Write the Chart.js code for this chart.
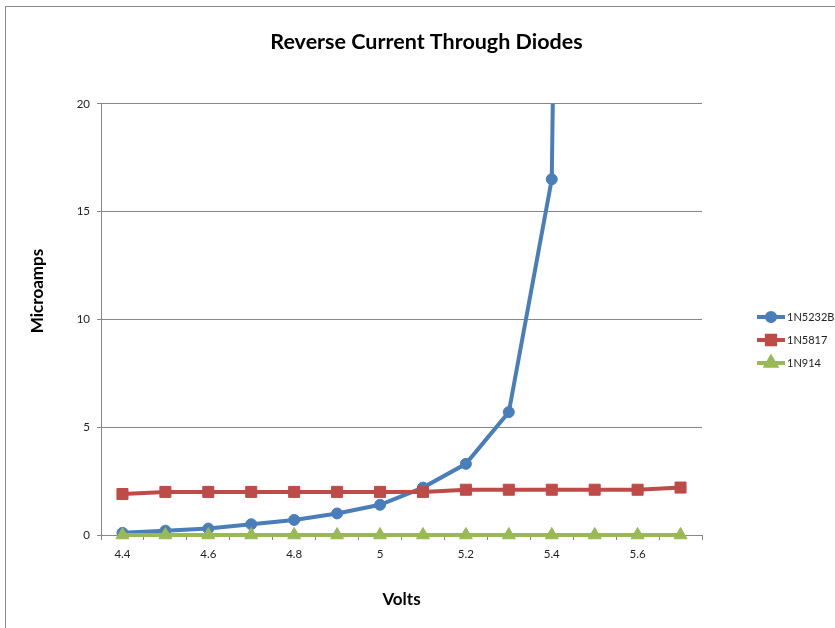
<!DOCTYPE html>
<html>
<head>
<meta charset="utf-8">
<title>Reverse Current Through Diodes</title>
<script src="https://cdn.jsdelivr.net/npm/chart.js@4/dist/chart.umd.min.js"></script>
<style>
  html, body { margin: 0; padding: 0; background: #fff; overflow: hidden; }
  #wrap { position: relative; width: 835px; height: 628px; }
  #frame { position: absolute; left: 5px; top: 6px; width: 900px; height: 700px;
           border: 1px solid #8a8a8a; box-sizing: border-box; pointer-events: none; }
  canvas { position: absolute; left: 0; top: 0; }
</style>
</head>
<body>
<div id="wrap">
  <div id="frame"></div>
  <canvas id="chart" width="835" height="628"></canvas>
</div>
<script>
// Reverse bias voltage (V)
const volts = ['4.4', '4.5', '4.6', '4.7', '4.8', '4.9', '5', '5.1', '5.2', '5.3', '5.4', '5.5', '5.6', '5.7'];

// Reverse current (µA) per diode
const i1N5232B = [0.1, 0.2, 0.3, 0.5, 0.7, 1.0, 1.4, 2.2, 3.3, 5.7, 16.5, 160, null, null];
const i1N5817  = [1.9, 2.0, 2.0, 2.0, 2.0, 2.0, 2.0, 2.0, 2.1, 2.1, 2.1, 2.1, 2.1, 2.2];
const i1N914   = [0, 0, 0, 0, 0, 0, 0, 0, 0, 0, 0, 0, 0, 0];

const yTicks = [0, 5, 10, 15, 20];

const FONT = 'Lato, "Open Sans", sans-serif';
const AXIS_GRAY = '#878787';

// Vertical axis caption, placed a little above the axis middle
const yCaption = {
  id: 'yCaption',
  afterDraw(chart) {
    const ctx = chart.ctx;
    ctx.save();
    ctx.translate(38, 291);
    ctx.rotate(-Math.PI / 2);
    ctx.fillStyle = '#000';
    ctx.font = 'bold 17px ' + FONT;
    ctx.textAlign = 'center';
    ctx.textBaseline = 'middle';
    ctx.fillText('Microamps', 0, 0);
    ctx.restore();
  }
};

// Legend drawn at the right: line segment with marker, then the series name
const sideLegend = {
  id: 'sideLegend',
  afterDraw(chart) {
    const ctx = chart.ctx;
    const x0 = 757, x1 = 785, top = 317, step = 23;
    chart.data.datasets.forEach((ds, i) => {
      const y = top + step * i;
      ctx.save();
      ctx.strokeStyle = ds.borderColor;
      ctx.fillStyle = ds.pointBackgroundColor;
      ctx.lineWidth = 4;
      ctx.beginPath();
      ctx.moveTo(x0, y);
      ctx.lineTo(x1, y);
      ctx.stroke();
      const opts = { pointStyle: ds.pointStyle, radius: ds.pointRadius * 0.75, rotation: 0, borderWidth: 1 };
      ctx.strokeStyle = ds.pointBorderColor;
      if (Chart.helpers && Chart.helpers.drawPoint) {
        Chart.helpers.drawPoint(ctx, opts, (x0 + x1) / 2, y);
      }
      ctx.fillStyle = '#222';
      ctx.font = '11px ' + FONT;
      ctx.textBaseline = 'middle';
      ctx.textAlign = 'left';
      ctx.fillText(ds.label, x1 + 2, y);
      ctx.restore();
    });
  }
};

function series(label, data, color, style, radius, order) {
  return {
    label, data, order,
    borderColor: color,
    backgroundColor: color,
    pointBackgroundColor: color,
    pointBorderColor: color,
    pointStyle: style,
    pointRadius: radius,
    pointHoverRadius: radius,
    pointBorderWidth: 1,
    borderWidth: 4,
    tension: 0,
    spanGaps: false,
    // cut at the top of the plot, but let markers on the baseline show in full
    clip: { left: 12, right: 12, top: 0, bottom: 12 }
  };
}

new Chart(document.getElementById('chart'), {
  type: 'line',
  data: {
    labels: volts,
    datasets: [
      series('1N5232B', i1N5232B, '#4a7ebb', 'circle', 5.5, 3),
      series('1N5817', i1N5817, '#be4b48', 'rect', 7.8, 2),
      series('1N914', i1N914, '#98b954', 'triangle', 7.5, 1)
    ]
  },
  options: {
    responsive: false,
    animation: false,
    events: [],
    layout: { padding: { left: 28, right: 10, top: 0, bottom: 18 } },
    plugins: {
      legend: { display: false },
      tooltip: { enabled: false },
      title: {
        display: true,
        text: 'Reverse Current Through Diodes',
        color: '#000',
        font: { family: FONT, size: 21.5, weight: 'bold', lineHeight: 1.2 },
        padding: { top: 29, bottom: 49 }
      }
    },
    scales: {
      x: {
        type: 'category',
        offset: true,
        grid: {
          offset: true,
          drawOnChartArea: false,
          drawTicks: true,
          tickLength: 5,
          tickColor: AXIS_GRAY
        },
        border: { display: true, color: AXIS_GRAY, width: 1 },
        ticks: {
          autoSkip: false,
          maxRotation: 0,
          color: '#222',
          padding: 7,
          font: { family: FONT, size: 11.5 },
          callback(value, index) { return index % 2 === 0 ? this.getLabelForValue(value) : ''; }
        },
        title: {
          display: true,
          text: 'Volts',
          color: '#000',
          font: { family: FONT, size: 17, weight: 'bold', lineHeight: 1.2 },
          padding: 0
        },
        afterFit(s) { s.height = 75; }
      },
      y: {
        min: 0,
        max: 20,
        afterBuildTicks(s) { s.ticks = yTicks.map(v => ({ value: v })); },
        grid: {
          color: AXIS_GRAY,
          lineWidth: 1,
          drawTicks: true,
          tickLength: 4,
          tickColor: AXIS_GRAY
        },
        border: { display: true, color: AXIS_GRAY, width: 1 },
        ticks: {
          color: '#222',
          padding: 7,
          font: { family: FONT, size: 11.5 }
        },
        title: { display: false },
        afterFit(s) { s.width = 73; }
      },
      // empty right-hand strip that holds the legend
      side: {
        position: 'right',
        display: true,
        grid: { display: false, drawTicks: false },
        border: { display: false },
        ticks: { display: false },
        afterFit(s) { s.width = 123; }
      }
    }
  },
  plugins: [yCaption, sideLegend]
});
</script>
</body>
</html>
